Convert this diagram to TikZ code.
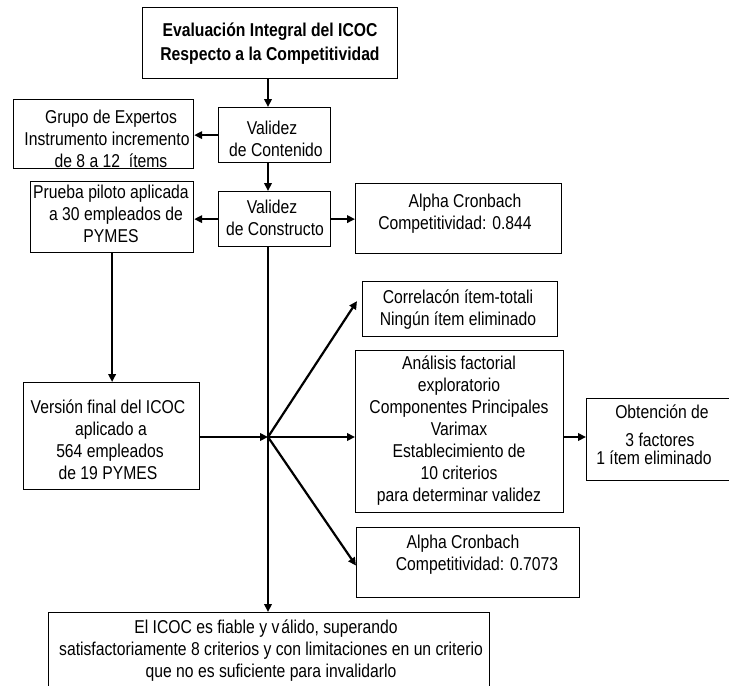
\documentclass[tikz,border=0pt]{standalone}
\usepackage{fontspec}
\setmainfont{Liberation Sans}[FakeStretch=0.845]
\usetikzlibrary{arrows.meta}
\newcommand\fsn{\fontsize{18.6}{22}\selectfont}
\newcommand\fsb{\fontsize{18.6}{24}\selectfont\bfseries}
\begin{document}
\begin{tikzpicture}[x=1pt,y=-1pt,
  bx/.style={draw, line width=1.2pt, inner sep=0pt, anchor=north west},
  tx/.style={align=center, inner sep=0pt, font=\fsn},
  arr/.style={line width=2.2pt, -{Triangle[length=8pt,width=7.5pt]}},
  ln/.style={line width=2.2pt}]
\fill[white] (0,0) rectangle (729,686);
\useasboundingbox (0,0) rectangle (729,686);

% boxes
\node[bx, minimum width=255pt, minimum height=71pt] (top) at (142,7) {};
\node[bx, minimum width=180pt, minimum height=69pt] (ge) at (13,99) {};
\node[bx, minimum width=112pt, minimum height=55pt] (vc) at (218,107) {};
\node[bx, minimum width=163pt, minimum height=71pt] (pp) at (30,181) {};
\node[bx, minimum width=112pt, minimum height=55pt] (vk) at (218,191) {};
\node[bx, minimum width=206pt, minimum height=70pt] (a1) at (355,183) {};
\node[bx, minimum width=195pt, minimum height=55pt] (ci) at (362,281) {};
\node[bx, minimum width=176pt, minimum height=107pt] (vf) at (23,382) {};
\node[bx, minimum width=208pt, minimum height=162pt] (af) at (355,350) {};
\node[bx, minimum width=220pt, minimum height=82pt] (ob) at (586,398) {};
\node[bx, minimum width=223pt, minimum height=70pt] (a2) at (356,527) {};
\node[bx, minimum width=441pt, minimum height=90pt] (bt) at (48,612) {};

% texts
\node[tx, font=\fsb] (topT) at (270,44) {Evaluación Integral del ICOC\\Respecto a la Competitividad};
\node[tx] (geT) at (107,139) {\hspace*{8pt}Grupo de Expertos\\Instrumento incremento\\\hspace*{8pt}de 8 a 12\ \ ítems};
\node[tx] (vcT) at (276,138.5) {\hspace*{-8pt}Validez\\de Contenido};
\node[tx] (ppT) at (111,213.5) {Prueba piloto aplicada\\\hspace*{10pt}a 30 empleados de\\PYMES};
\node[tx] (vkT) at (275,217.5) {\hspace*{-6pt}Validez\\de Constructo};
\node[tx] (a1T) at (455,213.5) {\hspace*{20pt}Alpha Cronbach\\Competitividad: 0.844};
\node[tx] (ciT) at (458,309.5) {Correlacón ítem-totali\\Ningún ítem eliminado};
\node[tx] (vfT) at (108,439.5) {Versión final del ICOC\\\hspace*{6pt}aplicado a\\\hspace*{4pt}564 empleados\\de 19 PYMES};
\node[tx] (afT) at (459,431) {Análisis factorial\\exploratorio\\Componentes Principales\\Varimax\\Establecimiento de\\10 criterios\\para determinar validez};
\node[tx] (obT) at (654,435) {\hspace*{16pt}Obtención de\\[6pt]\hspace*{12pt}3 factores\\[-4pt]1 ítem eliminado};
\node[tx] (a2T) at (477,554.5) {\hspace*{-28pt}Alpha Cronbach\\Competitividad: 0.7073};
\node[tx] (btT) at (271,651) {\hspace*{-10pt}El ICOC es fiable y v\hspace{2pt}álido, superando\\satisfactoriamente 8 criterios y con limitaciones en un criterio\\que no es suficiente para invalidarlo};

% hub
\coordinate (hub) at (268,437);

% connectors
\draw[arr] (top.south -| hub) -- (vc.north -| hub);
\draw[arr] (vc.west) -- (vc.west -| ge.east);
\draw[arr] (vc.south -| hub) -- (vk.north -| hub);
\draw[arr] (vk.west) -- (vk.west -| pp.east);
\draw[arr] (vk.east) -- (vk.east -| a1.west);
\draw[arr] (pp.south) -- (pp.south |- vf.north);
\draw[arr] (vk.south -| hub) -- (bt.north -| hub);
\draw[arr] (vf.east |- hub) -- (hub);
\draw[arr] (hub) -- ([xshift=-5pt,yshift=8pt]ci.west);
\draw[arr] (hub) -- (af.west |- hub);
\draw[arr] (af.east |- hub) -- (ob.west |- hub);
\draw[arr] (hub) -- ([yshift=-3pt]a2.west);
\end{tikzpicture}
\end{document}
